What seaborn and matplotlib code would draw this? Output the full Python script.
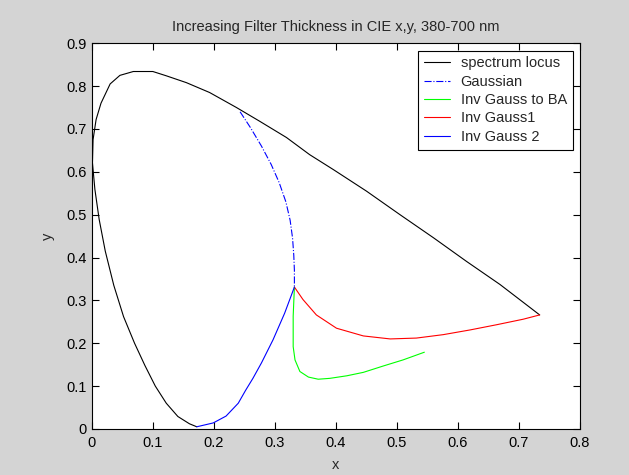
import numpy as np
import pandas as pd
import matplotlib
matplotlib.use("Agg")
import matplotlib.pyplot as plt
import seaborn as sns

# ---- data ----
locus_x = [0.172, 0.160, 0.141, 0.122, 0.104, 0.087, 0.070, 0.052, 0.036, 0.022,
           0.012, 0.005, 0.001, 0.002, 0.007, 0.015, 0.030, 0.046, 0.068, 0.100,
           0.122, 0.155, 0.193, 0.237, 0.275, 0.319, 0.357, 0.396, 0.450, 0.505,
           0.560, 0.614, 0.669, 0.734]
locus_y = [0.005, 0.012, 0.029, 0.060, 0.100, 0.148, 0.200, 0.262, 0.335, 0.415,
           0.489, 0.559, 0.621, 0.675, 0.722, 0.760, 0.805, 0.825, 0.834, 0.834,
           0.824, 0.808, 0.785, 0.750, 0.718, 0.680, 0.640, 0.605, 0.555, 0.500,
           0.446, 0.391, 0.337, 0.266]

gauss_x = [0.243, 0.260, 0.278, 0.294, 0.307, 0.318, 0.325, 0.329, 0.331, 0.332, 0.332]
gauss_y = [0.740, 0.703, 0.660, 0.617, 0.575, 0.530, 0.487, 0.445, 0.405, 0.370, 0.331]

ba_x = [0.332, 0.330, 0.330, 0.333, 0.341, 0.355, 0.371, 0.390, 0.418, 0.445, 0.478, 0.510, 0.545]
ba_y = [0.331, 0.263, 0.192, 0.161, 0.134, 0.121, 0.116, 0.118, 0.124, 0.132, 0.147, 0.161, 0.179]

inv1_x = [0.332, 0.346, 0.368, 0.401, 0.445, 0.489, 0.532, 0.576, 0.620, 0.663, 0.707, 0.734]
inv1_y = [0.331, 0.302, 0.266, 0.235, 0.217, 0.210, 0.212, 0.220, 0.231, 0.243, 0.256, 0.266]

inv2_x = [0.332, 0.316, 0.297, 0.278, 0.264, 0.252, 0.240, 0.220, 0.199, 0.172]
inv2_y = [0.331, 0.270, 0.208, 0.154, 0.118, 0.090, 0.060, 0.030, 0.014, 0.005]

labels = ["spectrum locus", "Gaussian", "Inv Gauss to BA", "Inv Gauss1", "Inv Gauss 2"]
colors = ["black", "blue", "#00ff00", "red", "blue"]
styles = ["-", "-.", "-", "-", "-"]

title = "Increasing Filter Thickness in CIE x,y, 380-700 nm"
xticks = [0, 0.1, 0.2, 0.3, 0.4, 0.5, 0.6, 0.7, 0.8]
yticks = [0, 0.1, 0.2, 0.3, 0.4, 0.5, 0.6, 0.7, 0.8, 0.9]

sns.set_style("ticks")
plt.rcParams["font.family"] = ["Liberation Sans", "DejaVu Sans"]

bg = "#d4d4d4"
fs = 10.5
fig = plt.figure(figsize=(6.29, 4.75), dpi=100, facecolor=bg)
ax = fig.add_axes([0.146, 0.097, 0.776, 0.812])
ax.set_facecolor("white")

series = [(locus_x, locus_y), (gauss_x, gauss_y), (ba_x, ba_y), (inv1_x, inv1_y), (inv2_x, inv2_y)]
for (xs, ys), lab, c, ls in zip(series, labels, colors, styles):
    df = pd.DataFrame({"x": xs, "y": ys})
    sns.lineplot(data=df, x="x", y="y", sort=False, estimator=None, ax=ax,
                 color=c, linestyle=ls, linewidth=0.8, label=lab)

ax.set_xlim(0, 0.8)
ax.set_ylim(0, 0.9)
ax.set_xticks(xticks)
ax.set_xticklabels([f"{v:g}" for v in xticks])
ax.set_yticks(yticks)
ax.set_yticklabels([f"{v:g}" for v in yticks])
ax.tick_params(direction="in", top=True, right=True, length=5, width=0.8,
               labelsize=fs, colors="black")
ax.tick_params(axis="x", pad=5)
ax.tick_params(axis="y", pad=4)
for s in ax.spines.values():
    s.set_visible(True)
    s.set_linewidth(0.8)
    s.set_color("black")

ax.set_xlabel("x", fontsize=fs, labelpad=6)
ax.set_ylabel("y", fontsize=fs, labelpad=8)
ax.set_title(title, fontsize=fs, pad=9)

leg = ax.legend(loc="upper right", fontsize=fs, frameon=True, fancybox=False,
                borderaxespad=0.5, handlelength=1.8, labelspacing=0.3,
                handletextpad=0.7, borderpad=0.4)
leg.get_frame().set_edgecolor("black")
leg.get_frame().set_linewidth(0.8)
leg.get_frame().set_alpha(1)

fig.savefig("out.png", dpi=100, facecolor=bg)
